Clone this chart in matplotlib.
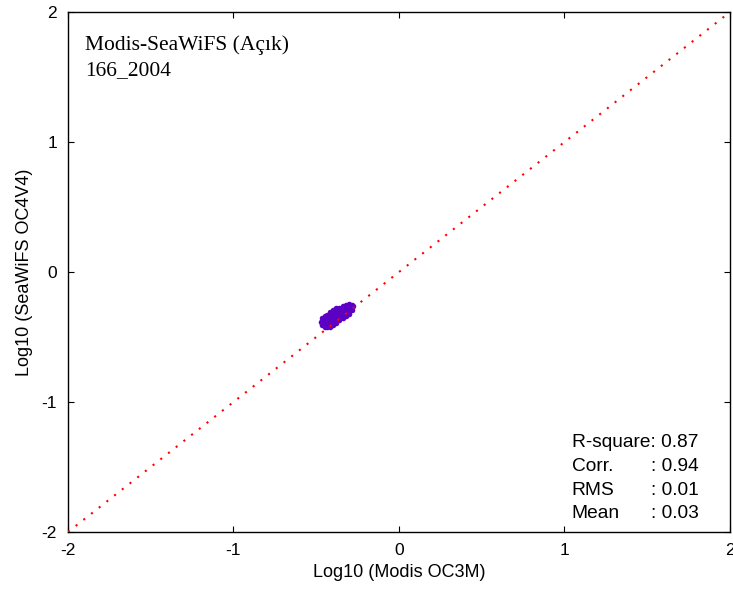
import matplotlib
matplotlib.use("Agg")
import matplotlib.pyplot as plt

# Scatter cluster (Log10 Modis OC3M vs Log10 SeaWiFS OC4V4)
modis = [-0.474,
         -0.465, -0.465, -0.465,
         -0.450, -0.450, -0.450, -0.450,
         -0.435, -0.435, -0.435, -0.435,
         -0.418, -0.418, -0.418, -0.418, -0.418,
         -0.400, -0.400, -0.400, -0.400, -0.400,
         -0.380, -0.380, -0.380, -0.380, -0.380,
         -0.360, -0.360, -0.360, -0.360,
         -0.340, -0.340, -0.340, -0.340,
         -0.320, -0.320, -0.320, -0.320,
         -0.300, -0.300, -0.300, -0.300,
         -0.285, -0.285, -0.285,
         -0.275]
seawifs = [-0.388,
           -0.350, -0.380, -0.410,
           -0.340, -0.370, -0.400, -0.420,
           -0.330, -0.360, -0.390, -0.420,
           -0.310, -0.340, -0.370, -0.400, -0.420,
           -0.290, -0.320, -0.350, -0.380, -0.410,
           -0.280, -0.310, -0.340, -0.370, -0.395,
           -0.275, -0.305, -0.340, -0.370,
           -0.260, -0.290, -0.320, -0.350,
           -0.250, -0.280, -0.310, -0.335,
           -0.245, -0.270, -0.300, -0.320,
           -0.250, -0.270, -0.290,
           -0.260]

ref_line = [-2, 2]
ticks = [-2, -1, 0, 1, 2]
title_lines = ["Modis-SeaWiFS (Açık)", "166_2004"]
stat_names = ["R-square", "Corr.", "RMS", "Mean"]
stat_values = ["0.87", "0.94", "0.01", "0.03"]

W, H = 733, 594
fig = plt.figure(figsize=(W / 100, H / 100), dpi=100)
ax = fig.add_axes([68 / W, 1 - 532 / H, (730 - 68) / W, (532 - 12) / H])

ax.plot(modis, seawifs, linestyle="none", marker="o", markersize=4.0,
        markeredgewidth=0, color="#5c00c4", zorder=2)
ax.plot(ref_line, ref_line, color="#ff0000", linewidth=1.5,
        linestyle=(0, (1, 3.7)), zorder=3)

ax.set_xlim(-2, 2)
ax.set_ylim(-2, 2)
ax.set_xticks(ticks)
ax.set_yticks(ticks)
ax.set_xticklabels([str(t) for t in ticks])
ax.set_yticklabels([str(t) for t in ticks])
ax.tick_params(direction="in", length=4, width=0.8, top=True, right=True,
               labelsize=12.5, colors="black")
ax.tick_params(axis="x", pad=8)
ax.tick_params(axis="y", pad=8)
for s in ax.spines.values():
    s.set_linewidth(1.0)
    s.set_color("black")

sans = "Liberation Sans"
for lab in ax.get_xticklabels() + ax.get_yticklabels():
    lab.set_fontfamily(sans)

ax.set_xlabel("Log10 (Modis OC3M)", fontsize=13, fontfamily=sans, labelpad=4)
ax.set_ylabel("Log10 (SeaWiFS OC4V4)", fontsize=13, fontfamily=sans, labelpad=6)

serif = "Liberation Serif"
ax.text(0.0257, 0.927, title_lines[0], transform=ax.transAxes, fontsize=15.5,
        fontfamily=serif, va="baseline", ha="left")
ax.text(0.0257, 0.879, title_lines[1], transform=ax.transAxes, fontsize=15.5,
        fontfamily=serif, va="baseline", ha="left")

ys = [0.1635, 0.117, 0.071, 0.027]
for i, (name, val, y) in enumerate(zip(stat_names, stat_values, ys)):
    if i == 0:
        ax.text(0.761, y, name + ": " + val, transform=ax.transAxes,
                fontsize=13.8, fontfamily=sans, va="baseline", ha="left")
    else:
        ax.text(0.761, y, name, transform=ax.transAxes, fontsize=13.8,
                fontfamily=sans, va="baseline", ha="left")
        ax.text(0.880, y, ": " + val, transform=ax.transAxes, fontsize=13.8,
                fontfamily=sans, va="baseline", ha="left")

fig.savefig("out.png", dpi=100)
